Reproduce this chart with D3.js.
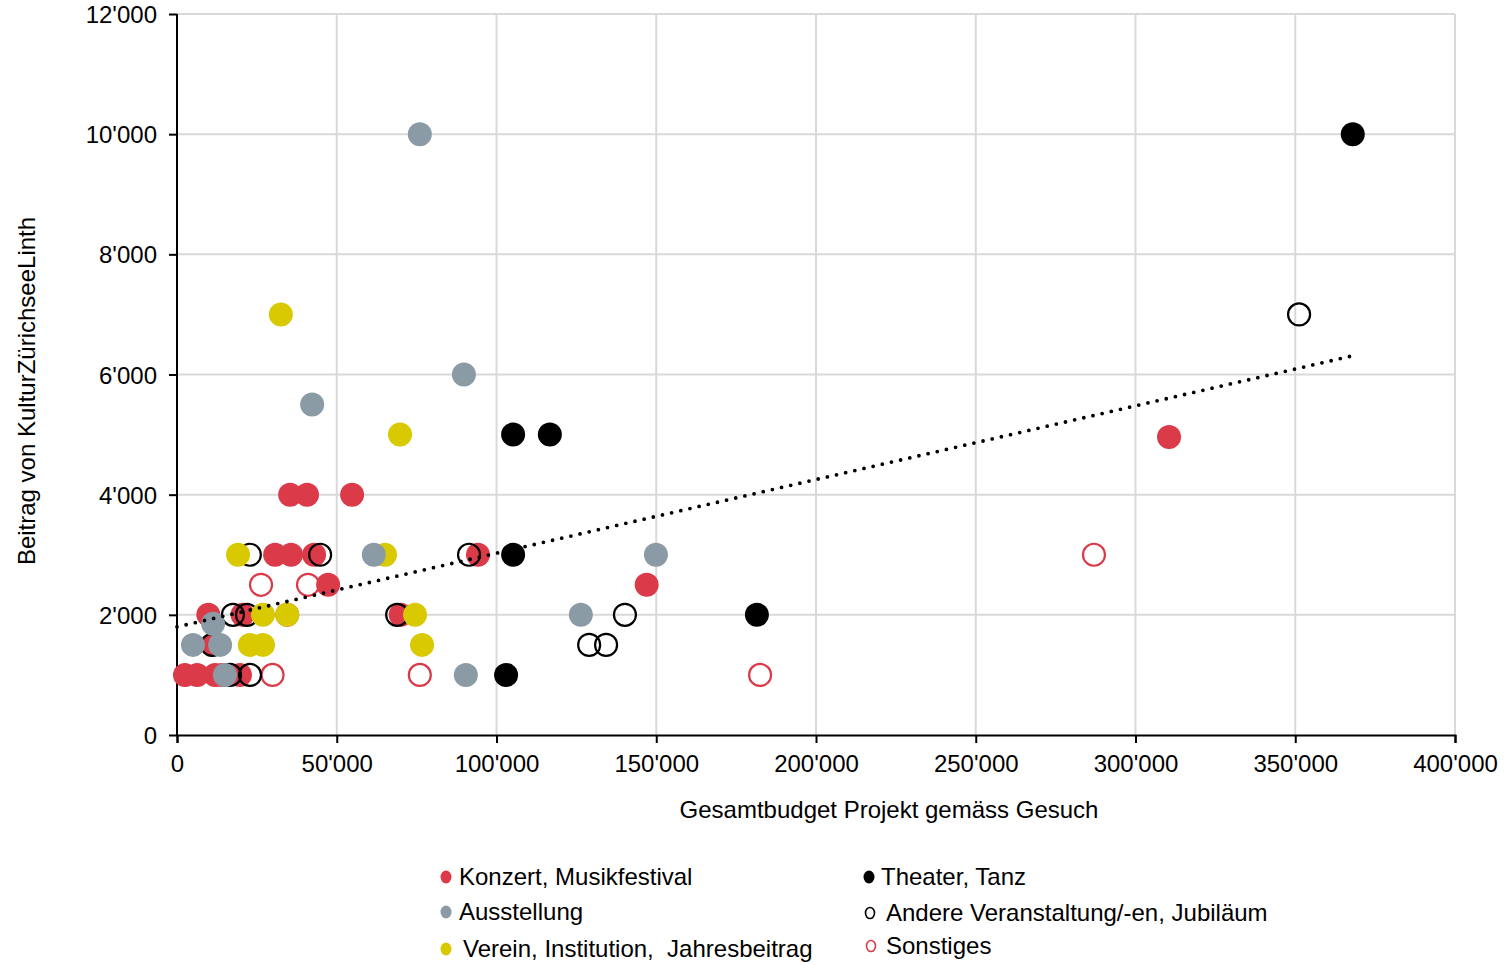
<!DOCTYPE html>
<html>
<head>
<meta charset="utf-8">
<script src="https://cdn.jsdelivr.net/npm/d3@7"></script>
<style>
  html, body { margin: 0; padding: 0; background: #fff; }
  svg { display: block; font-family: "Liberation Sans", Arial, sans-serif; }
</style>
</head>
<body>
<svg id="chart" width="1510" height="965"></svg>
<script>
// ---- data ----
const xTicks = [0, 50000, 100000, 150000, 200000, 250000, 300000, 350000, 400000];
const yTicks = [0, 2000, 4000, 6000, 8000, 10000, 12000];

const konzertX = [2500, 6300, 11900, 14000, 19700, 11000, 9800, 20500, 34500, 70000, 47300, 147000, 30700, 35700, 42900, 94200, 35400, 40700, 54800, 310500];
const konzertY = [1000, 1000, 1000, 1000, 1000, 1500, 2000, 2000, 2000, 2000, 2500, 2500, 3000, 3000, 3000, 3000, 4000, 4000, 4000, 4960];

const ausstellungX = [76000, 89800, 42300, 61600, 149900, 126400, 11300, 5000, 13500, 90400, 15000];
const ausstellungY = [10000, 6000, 5500, 3000, 3000, 2000, 1850, 1500, 1500, 1000, 1000];

const vereinX = [32500, 69800, 19100, 65100, 26900, 34500, 74500, 22800, 26900, 76700];
const vereinY = [7000, 5000, 3000, 3000, 2000, 2000, 2000, 1500, 1500, 1500];

const theaterX = [368000, 105200, 116700, 105200, 181500, 103000];
const theaterY = [10000, 5000, 5000, 3000, 2000, 1000];

const andereX = [351200, 22800, 44800, 91400, 17500, 21900, 68900, 140200, 11000, 129000, 134300, 16600, 22850];
const andereY = [7000, 3000, 3000, 3000, 2000, 2000, 2000, 2000, 1500, 1500, 1500, 1000, 1000];

const sonstigesX = [26300, 41000, 287000, 29900, 76000, 182500];
const sonstigesY = [2500, 2500, 3000, 1000, 1000, 1000];

const trendX = [0, 367000];
const trendY = [1800, 6300];

const seriesNames = ["Konzert, Musikfestival", "Ausstellung", "Verein, Institution,  Jahresbeitrag",
                     "Theater, Tanz", "Andere Veranstaltung/-en, Jubiläum", "Sonstiges"];

// ---- styles ----
const RED = "#db3a48", GREY = "#8a9ba6", YELLOW = "#d8c900", BLACK = "#000";
const FS = "24px";
const series = [
  { name: seriesNames[5], xs: sonstigesX, ys: sonstigesY, fill: "#fff", stroke: RED, open: true },
  { name: seriesNames[0], xs: konzertX, ys: konzertY, fill: RED, stroke: "none" },
  { name: seriesNames[3], xs: theaterX, ys: theaterY, fill: BLACK, stroke: "none" },
  { name: seriesNames[4], xs: andereX, ys: andereY, fill: "#fff", stroke: BLACK, open: true },
  { name: seriesNames[2], xs: vereinX, ys: vereinY, fill: YELLOW, stroke: "none" },
  { name: seriesNames[1], xs: ausstellungX, ys: ausstellungY, fill: GREY, stroke: "none" }
];

const svg = d3.select("#chart");
const x = d3.scaleLinear().domain([0, 400000]).range([177, 1455]);
const y = d3.scaleLinear().domain([0, 12000]).range([735, 14]);
const fmt = v => d3.format(",")(v).replace(/,/g, "'");

// gridlines
svg.append("g").selectAll("line").data(xTicks.slice(1)).join("line")
  .attr("x1", d => x(d)).attr("x2", d => x(d)).attr("y1", y(0)).attr("y2", y(12000))
  .attr("stroke", "#d9d9d9").attr("stroke-width", 2);
svg.append("g").selectAll("line").data(yTicks.slice(1)).join("line")
  .attr("x1", x(0)).attr("x2", x(400000)).attr("y1", d => y(d)).attr("y2", d => y(d))
  .attr("stroke", "#d9d9d9").attr("stroke-width", 2);

// axes
const xAxis = svg.append("g").attr("transform", `translate(0,${y(0)})`)
  .call(d3.axisBottom(x).tickValues(xTicks).tickFormat(fmt).tickSizeOuter(0).tickSize(8).tickPadding(10));
const yAxis = svg.append("g").attr("transform", `translate(${x(0)},0)`)
  .call(d3.axisLeft(y).tickValues(yTicks).tickFormat(fmt).tickSizeOuter(0).tickSize(8).tickPadding(12));
[xAxis, yAxis].forEach(a => {
  a.select(".domain").attr("stroke", "#000").attr("stroke-width", 2);
  a.selectAll(".tick line").attr("stroke", "#000").attr("stroke-width", 2);
  a.selectAll(".tick text").attr("fill", "#000").style("font-size", FS)
    .style("font-family", "'Liberation Sans', Arial, sans-serif");
});
yAxis.select(".domain").attr("d", `M0,${y(0)}V${y(12000)}`);
yAxis.selectAll(".tick text").attr("dy", "0.36em");
xAxis.selectAll(".tick text").attr("dy", "0.8em");

// points
series.forEach(s => {
  const pts = s.xs.map((v, i) => [v, s.ys[i]]);
  svg.append("g").selectAll("circle").data(pts).join("circle")
    .attr("cx", d => x(d[0])).attr("cy", d => y(d[1]))
    .attr("r", s.open ? 11 : 12)
    .attr("fill", s.fill)
    .attr("fill-opacity", s.open ? 0 : 1)
    .attr("stroke", s.stroke)
    .attr("stroke-width", s.open ? 2.2 : 0);
});

// trendline
svg.append("line")
  .attr("x1", x(trendX[0])).attr("y1", y(trendY[0]))
  .attr("x2", x(trendX[1])).attr("y2", y(trendY[1]))
  .attr("stroke", "#000").attr("stroke-width", 3.8)
  .attr("stroke-linecap", "round").attr("stroke-dasharray", "0,9.4");

// axis titles
svg.append("text").attr("x", 889).attr("y", 818).attr("text-anchor", "middle")
  .style("font-size", FS).text("Gesamtbudget Projekt gemäss Gesuch");
svg.append("text").attr("transform", "translate(35,391) rotate(-90)").attr("text-anchor", "middle")
  .style("font-size", FS).text("Beitrag von KulturZürichseeLinth");

// legend
const legend = [
  { name: seriesNames[0], mx: 446, tx: 459, cy: 877, fill: RED, stroke: "none" },
  { name: seriesNames[1], mx: 446, tx: 459, cy: 912, fill: GREY, stroke: "none" },
  { name: seriesNames[2], mx: 446, tx: 463, cy: 949, fill: YELLOW, stroke: "none" },
  { name: seriesNames[3], mx: 869, tx: 881, cy: 877, fill: BLACK, stroke: "none" },
  { name: seriesNames[4], mx: 870, tx: 886, cy: 913, fill: "none", stroke: BLACK },
  { name: seriesNames[5], mx: 871, tx: 886, cy: 946, fill: "none", stroke: RED }
];
const lg = svg.append("g").selectAll("g").data(legend).join("g");
lg.append("ellipse").attr("cx", d => d.mx).attr("cy", d => d.cy)
  .attr("rx", d => d.stroke === "none" ? 5.5 : 4.5).attr("ry", d => d.stroke === "none" ? 6.5 : 5.5)
  .attr("fill", d => d.fill).attr("stroke", d => d.stroke).attr("stroke-width", 1.6);
lg.append("text").attr("x", d => d.tx).attr("y", d => d.cy + 8)
  .style("font-size", FS).style("white-space", "pre").attr("xml:space", "preserve")
  .text(d => d.name);
</script>
</body>
</html>
